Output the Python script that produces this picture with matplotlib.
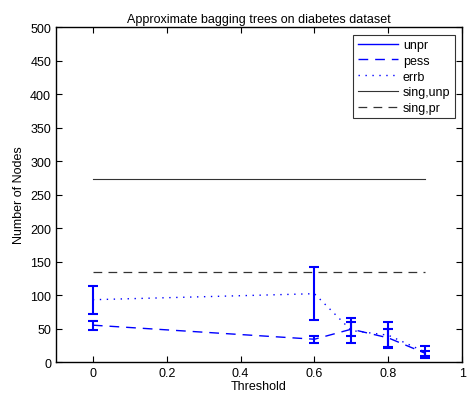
import matplotlib
matplotlib.use("Agg")
import matplotlib.pyplot as plt
import numpy as np

plt.rcParams['font.family'] = ['Liberation Sans', 'DejaVu Sans']

thresholds = [0, 0.6, 0.7, 0.8, 0.9]
unpr_values = [np.nan, np.nan, np.nan, np.nan, np.nan]
pess_values = [55, 34, 49, 36, 13]
pess_err = [6.5, 5, 10.5, 14, 4]
errb_values = [93, 102, 47, 40, 15]
errb_err = [21, 40, 18, 19.5, 9.5]
sing_x = [0, 0.9]
sing_unp = [273, 273]
sing_pr = [135, 135]

fig = plt.figure(figsize=(4.74, 4.02), dpi=100)
ax = fig.add_axes([0.118, 0.097, 0.857, 0.833])

blue = '#0000ff'
ax.plot(thresholds, unpr_values, '-', color=blue, lw=1.0, label='unpr')
ax.errorbar(thresholds, pess_values, yerr=pess_err, fmt='none', ecolor=blue,
            elinewidth=1.5, capsize=3.5, capthick=1.5)
ax.plot(thresholds, pess_values, color=blue, lw=1.0, dashes=(7, 5), label='pess')
ax.errorbar(thresholds, errb_values, yerr=errb_err, fmt='none', ecolor=blue,
            elinewidth=1.5, capsize=3.5, capthick=1.5)
ax.plot(thresholds, errb_values, color=blue, lw=1.0, ls=(0, (1, 4)), label='errb')
ax.plot(sing_x, sing_unp, '-', color='#333333', lw=0.8, label='sing,unp')
ax.plot(sing_x, sing_pr, color='#333333', lw=0.9, dashes=(7, 5), label='sing,pr')

ax.set_xlim(-0.1, 1.0)
ax.set_ylim(0, 500)
ax.set_xticks([0, 0.2, 0.4, 0.6, 0.8, 1])
ax.set_xticklabels(['0', '0.2', '0.4', '0.6', '0.8', '1'])
ax.set_yticks(np.arange(0, 501, 50))
ax.tick_params(direction='in', top=True, right=True, labelsize=9, length=4, width=0.8)
for s in ax.spines.values():
    s.set_linewidth(1.0)

ax.set_title('Approximate bagging trees on diabetes dataset', fontsize=9, pad=4)
ax.set_xlabel('Threshold', fontsize=9, labelpad=1)
ax.set_ylabel('Number of Nodes', fontsize=9, labelpad=4)

leg = ax.legend(loc='upper right', fontsize=9, frameon=True, fancybox=False,
                edgecolor='black', handlelength=3.2, borderpad=0.35,
                labelspacing=0.3, handletextpad=0.4, borderaxespad=0.6)
leg.get_frame().set_linewidth(0.8)

fig.savefig('out.png', dpi=100)
